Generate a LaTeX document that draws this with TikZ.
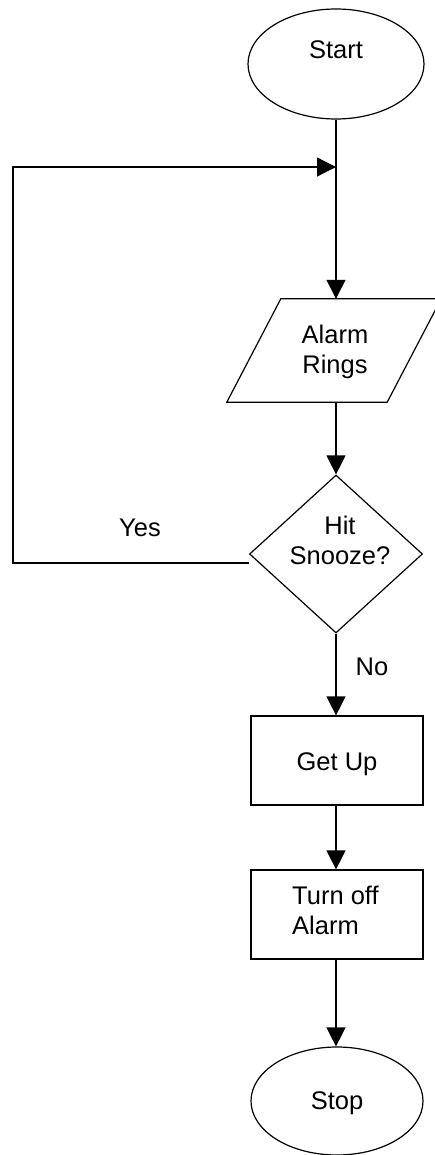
\documentclass[tikz,border=0pt]{standalone}
\usepackage{fontspec}
\setmainfont{Liberation Sans}
\usetikzlibrary{shapes.geometric,arrows.meta,calc}
\begin{document}
\begin{tikzpicture}[x=1pt,y=-1pt,
  every node/.style={font=\fontsize{25.5}{30}\selectfont},
  flow/.style={draw, line width=1.2pt, inner sep=0pt},
  conn/.style={line width=1.2pt},
  arr/.style={conn, -{Triangle[length=19pt,width=19pt]}}]
\fill[white] (0,0) rectangle (435,1155);
\useasboundingbox (0,0) rectangle (435,1155);
% Start
\node[flow, ellipse, minimum width=176pt, minimum height=110pt,
      label={[yshift=14pt]center:Start}] (start) at (336,64) {};
% Alarm Rings (parallelogram)
\node[inner sep=0pt, minimum width=214pt, minimum height=103pt] (para) at (334,350.5) {};
\draw[conn] ($(para.north west)+(54,0)$) -- (para.north east)
  -- ($(para.south east)+(-54,0)$) -- (para.south west) -- cycle;
\node[align=center, inner sep=0pt] (paratext) at (335,352) {Alarm\\Rings};
% Decision
\node[flow, diamond, minimum width=173pt, minimum height=158pt] (dec) at (336,554) {};
\node[align=center, inner sep=0pt] (dectext) at (340,540) {Hit\\Snooze?};
% Get Up
\node[flow, rectangle, minimum width=172pt, minimum height=89pt,
      label={[yshift=-4pt]center:Get Up}] (getup) at (337,760.5) {};
% Turn off Alarm
\node[flow, rectangle, minimum width=172pt, minimum height=89pt] (turnoff) at (337,914.5) {};
\node[anchor=west, align=left, inner sep=0pt] (turnofftext) at (292,910) {Turn off\\Alarm};
% Stop
\node[flow, ellipse, minimum width=172pt, minimum height=108pt,
      label={[yshift=-2pt]center:Stop}] (stop) at (337,1101) {};
% connectors
\draw[arr] (start.south) -- (start.south |- para.north);
\draw[arr] (para.south -| start.south) -- (dec.north);
\draw[arr] (dec.south) -- (dec.south |- getup.north);
\draw[arr] (getup.south -| dec.south) -- (dec.south |- turnoff.north);
\draw[arr] (turnoff.south -| dec.south) -- (dec.south |- stop.north);
% Yes loop
\coordinate (loopbot) at (13,563);
\coordinate (looptop) at (13,167);
\coordinate (join) at (336,167);
\draw[arr] ($(dec.west)+(0,9)$) -- (loopbot) -- (looptop) -- (join);
% labels
\node (yes) at (140,528) {Yes};
\node (no) at (372,667) {No};
\end{tikzpicture}
\end{document}
